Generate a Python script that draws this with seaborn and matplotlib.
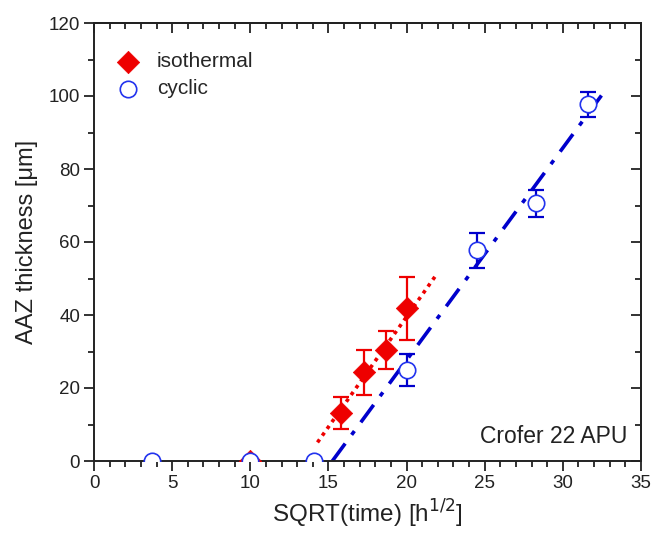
import numpy as np
import pandas as pd
import matplotlib
matplotlib.use("Agg")
import matplotlib.pyplot as plt
from matplotlib.ticker import MultipleLocator
import seaborn as sns

# ---- data ----
cyc_x = [3.74, 10.0, 14.1, 20.0, 24.5, 28.3, 31.6]
cyc_y = [0.0, 0.0, 0.0, 24.9, 57.8, 70.6, 97.7]
cyc_err = [0.0, 0.0, 0.0, 4.3, 4.8, 3.7, 3.5]

iso_x = [10.0, 15.8, 17.3, 18.7, 20.0]
iso_y = [0.0, 13.1, 24.3, 30.4, 41.8]
iso_err = [0.0, 4.3, 6.2, 5.1, 8.7]

iso_fit_x = [14.3, 21.9]
iso_fit_y = [5.1, 51.0]
cyc_fit_x = [15.25, 32.6]
cyc_fit_y = [0.0, 100.9]

RED = "#ee0000"
BLUE = "#0000cc"
CBLUE = "#2233ee"
INK = "#222222"

sns.set_theme(style="ticks")
plt.rcParams['font.family'] = ['Liberation Sans', 'DejaVu Sans']

fig = plt.figure(figsize=(6.54, 5.36), dpi=100)
ax = fig.add_axes([94/654, 75/536, 547/654, 438/536])

# fit lines
sns.lineplot(x=iso_fit_x, y=iso_fit_y, ax=ax, color=RED, lw=2.6,
             linestyle=(0, (1, 1.3)), sort=False, zorder=2)
sns.lineplot(x=cyc_fit_x, y=cyc_fit_y, ax=ax, color=BLUE, lw=2.6,
             linestyle=(0, (6, 3, 1.3, 3)), sort=False, zorder=2)

# error bars
ax.errorbar(iso_x, iso_y, yerr=iso_err, fmt='none', ecolor=RED, elinewidth=1.6,
            capsize=5.5, capthick=1.6, zorder=3)
ax.errorbar(cyc_x, cyc_y, yerr=cyc_err, fmt='none', ecolor=BLUE, elinewidth=1.6,
            capsize=5.5, capthick=1.6, zorder=3)

# markers
sns.scatterplot(x=iso_x, y=iso_y, ax=ax, marker='D', s=130, color=RED,
                edgecolor=RED, linewidth=0.5, zorder=4, label='isothermal')
sns.scatterplot(x=cyc_x, y=cyc_y, ax=ax, marker='o', s=140, facecolor='white',
                edgecolor=CBLUE, linewidth=1.2, zorder=5, label='cyclic')

ax.set_xlim(0, 35)
ax.set_ylim(0, 120)
ax.xaxis.set_major_locator(MultipleLocator(5))
ax.xaxis.set_minor_locator(MultipleLocator(1))
ax.yaxis.set_major_locator(MultipleLocator(20))
ax.yaxis.set_minor_locator(MultipleLocator(10))
ax.tick_params(which='major', direction='out', length=7, width=1.3,
               labelsize=13.5, colors=INK, pad=3)
ax.tick_params(which='minor', direction='out', length=4, width=1.3, colors=INK)

for sp in ax.spines.values():
    sp.set_visible(True)
    sp.set_linewidth(1.4)
    sp.set_color(INK)

secx = ax.secondary_xaxis('top')
secx.xaxis.set_major_locator(MultipleLocator(5))
secx.xaxis.set_minor_locator(MultipleLocator(1))
secx.tick_params(which='major', direction='in', length=7, width=1.3, labeltop=False, colors=INK)
secx.tick_params(which='minor', direction='in', length=4, width=1.3, colors=INK)
secx.spines['top'].set_linewidth(1.4)
secx.spines['top'].set_color(INK)
secy = ax.secondary_yaxis('right')
secy.yaxis.set_major_locator(MultipleLocator(20))
secy.yaxis.set_minor_locator(MultipleLocator(10))
secy.tick_params(which='major', direction='in', length=7, width=1.3, labelright=False, colors=INK)
secy.tick_params(which='minor', direction='in', length=4, width=1.3, colors=INK)
secy.spines['right'].set_linewidth(1.4)
secy.spines['right'].set_color(INK)

ax.set_xlabel('SQRT(time) [h$^{1/2}$]', fontsize=17.5, color=INK, labelpad=4)
ax.set_ylabel('AAZ thickness [\u03bcm]', fontsize=17, color=INK, labelpad=8)

ax.text(0.975, 0.055, 'Crofer 22 APU', transform=ax.transAxes, ha='right',
        va='center', fontsize=16.5, color=INK)

leg = ax.legend(loc='upper left', bbox_to_anchor=(0.012, 0.967), frameon=False,
                fontsize=15, handlelength=1.2, handletextpad=0.8, labelspacing=0.4,
                borderaxespad=0.3)

fig.savefig('out.png', dpi=100)
